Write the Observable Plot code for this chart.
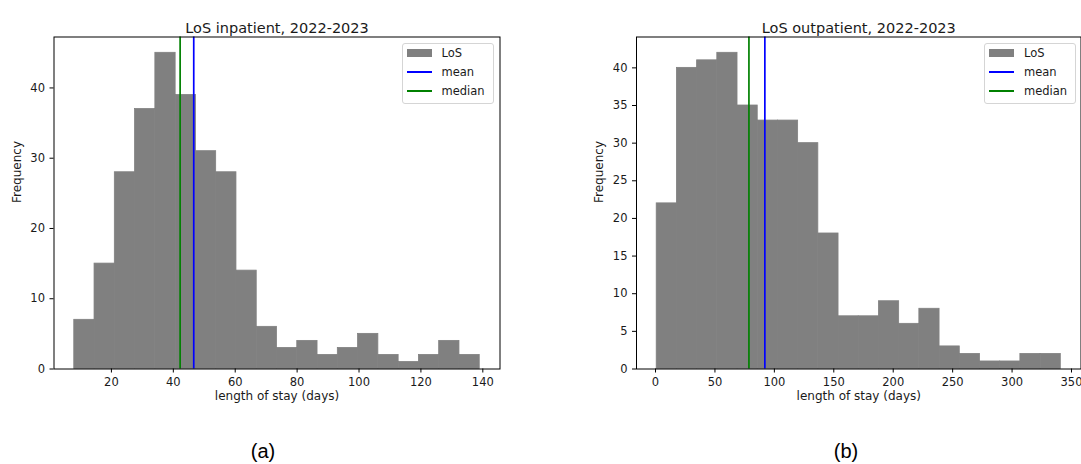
<!DOCTYPE html>
<html>
<head>
<meta charset="utf-8">
<script src="https://cdn.jsdelivr.net/npm/d3@7"></script>
<script src="https://cdn.jsdelivr.net/npm/@observablehq/plot@0.6"></script>
<style>
  html, body { margin: 0; padding: 0; background: #fff; overflow: hidden; }
  #page { position: relative; width: 1081px; height: 464px; font-family: "DejaVu Sans", sans-serif; color: #1a1a1a; }
  .panel { position: absolute; top: 0; }
  .legend { position: absolute; background: rgba(255,255,255,0.85); border: 1px solid #d5d5d5; border-radius: 3px; box-sizing: border-box; font-size: 11.5px; }
  .legend .row { position: absolute; left: 0; height: 16px; display: flex; align-items: center; }
  .legend .key { position: absolute; left: 4px; width: 25px; }
  .legend .lab { position: absolute; left: 39px; white-space: nowrap; line-height: 16px; }
  .caption { position: absolute; font-family: "Liberation Sans", Arial, sans-serif; font-size: 20px; color: #000; transform: translate(-50%, -50%); }
</style>
</head>
<body>
<div id="page"></div>
<script>
// Length-of-stay histograms (20 equal-width bins over [min, max] of each sample)
const inpatientTitle = "LoS inpatient, 2022-2023";
const inpatientRange = [8, 139];
const inpatientCounts = [7, 15, 28, 37, 45, 39, 31, 28, 14, 6, 3, 4, 2, 3, 5, 2, 1, 2, 4, 2];
const inpatientMean = 46.6;
const inpatientMedian = 42.2;
const inpatientXTicks = [20, 40, 60, 80, 100, 120, 140];
const inpatientYTicks = [0, 10, 20, 30, 40];

const outpatientTitle = "LoS outpatient, 2022-2023";
const outpatientRange = [1, 341];
const outpatientCounts = [22, 40, 41, 42, 35, 33, 33, 30, 18, 7, 7, 9, 6, 8, 3, 2, 1, 1, 2, 2];
const outpatientMean = 92.0;
const outpatientMedian = 78.6;
const outpatientXTicks = [0, 50, 100, 150, 200, 250, 300, 350];
const outpatientYTicks = [0, 5, 10, 15, 20, 25, 30, 35, 40];

const xLabel = "length of stay (days)";
const yLabel = "Frequency";
const legendLabels = ["LoS", "mean", "median"];
const captions = ["(a)", "(b)"];

const barColor = "#808080";
const meanColor = "#0000ff";
const medianColor = "#008000";
const ink = "#1a1a1a";

function bins(range, counts) {
  const w = (range[1] - range[0]) / counts.length;
  return counts.map((c, i) => ({x1: range[0] + i * w, x2: range[0] + (i + 1) * w, count: c}));
}

function histogram({title, range, counts, mean, median, xTicks, yTicks, left, width, margins}) {
  const pad = 0.05 * (range[1] - range[0]);
  const plot = Plot.plot({
    width,
    height: 410,
    marginLeft: margins.left,
    marginRight: margins.right,
    marginTop: 36.5,
    marginBottom: 41.5,
    style: {overflow: "visible", maxWidth: "none", background: "transparent", fontFamily: "DejaVu Sans, sans-serif", color: ink},
    x: {domain: [range[0] - pad, range[1] + pad]},
    y: {domain: [0, d3.max(counts) * 1.05]},
    marks: [
      // stroke in the fill colour closes the anti-aliasing seams between adjacent bins
      Plot.rectY(bins(range, counts), {x1: "x1", x2: "x2", y: "count", fill: barColor, stroke: barColor, strokeWidth: 0.8, inset: 0}),
      Plot.ruleX([mean], {stroke: meanColor, strokeWidth: 1.7}),
      Plot.ruleX([median], {stroke: medianColor, strokeWidth: 1.7}),
      Plot.frame({stroke: "#000", strokeWidth: 1}),
      Plot.axisX({ticks: xTicks, tickSize: 4, tickPadding: 5, fontSize: 11.5, label: null, stroke: "#000"}),
      Plot.axisY({ticks: yTicks, tickSize: 4, tickPadding: 5, fontSize: 11.5, label: null, stroke: "#000"}),
      Plot.text([title], {text: d => d, frameAnchor: "top", dy: -14, fontSize: 14.5, fill: ink}),
      Plot.text([xLabel], {text: d => d, frameAnchor: "bottom", dy: 30.5, fontSize: 12, fill: ink}),
      Plot.text([yLabel], {text: d => d, frameAnchor: "left", rotate: -90, dx: -37, fontSize: 12, fill: ink})
    ]
  });
  const holder = document.createElement("div");
  holder.className = "panel";
  holder.style.left = left + "px";
  holder.appendChild(plot);
  return holder;
}

function legend(left, top) {
  const box = document.createElement("div");
  box.className = "legend";
  Object.assign(box.style, {left: left + "px", top: top + "px", width: "92px", height: "61px"});
  const keys = [
    {type: "patch", color: barColor},
    {type: "line", color: meanColor},
    {type: "line", color: medianColor}
  ];
  keys.forEach((k, i) => {
    const row = document.createElement("div");
    row.className = "row";
    row.style.top = (1.5 + i * 18.8) + "px";
    const key = document.createElement("div");
    key.className = "key";
    if (k.type === "patch") {
      Object.assign(key.style, {height: "8px", top: "4px", background: k.color});
    } else {
      Object.assign(key.style, {height: "2px", top: "7px", background: k.color});
    }
    const lab = document.createElement("div");
    lab.className = "lab";
    lab.textContent = legendLabels[i];
    row.appendChild(key);
    row.appendChild(lab);
    box.appendChild(row);
  });
  return box;
}

function caption(text, x, y) {
  const c = document.createElement("div");
  c.className = "caption";
  c.style.left = x + "px";
  c.style.top = y + "px";
  c.textContent = text;
  return c;
}

const page = document.getElementById("page");
page.appendChild(histogram({
  title: inpatientTitle, range: inpatientRange, counts: inpatientCounts,
  mean: inpatientMean, median: inpatientMedian,
  xTicks: inpatientXTicks, yTicks: inpatientYTicks,
  left: 0, width: 510, margins: {left: 53.5, right: 10.5}
}));
page.appendChild(histogram({
  title: outpatientTitle, range: outpatientRange, counts: outpatientCounts,
  mean: outpatientMean, median: outpatientMedian,
  xTicks: outpatientXTicks, yTicks: outpatientYTicks,
  left: 580, width: 501, margins: {left: 56, right: 0.5}
}));
page.appendChild(legend(401.5, 42.5));
page.appendChild(legend(984, 42.5));
page.appendChild(caption(captions[0], 263, 451));
page.appendChild(caption(captions[1], 846, 451));
</script>
</body>
</html>
